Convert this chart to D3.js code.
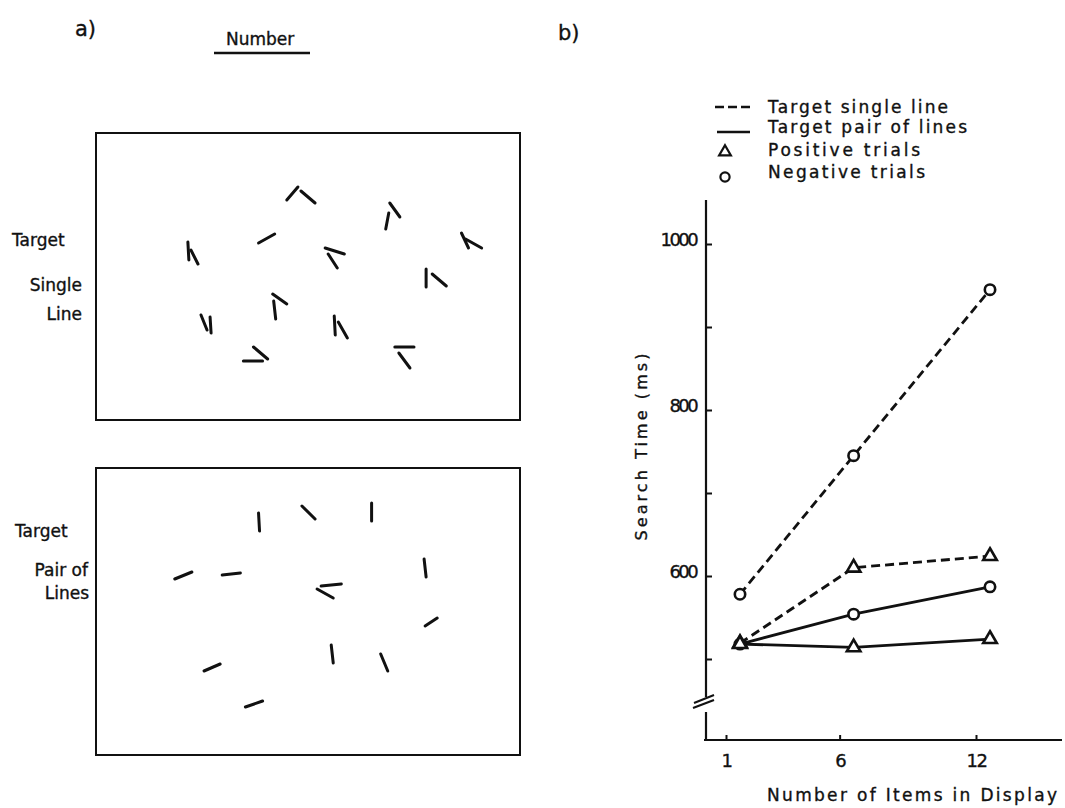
<!DOCTYPE html>
<html><head><meta charset="utf-8">
<script src="https://cdn.jsdelivr.net/npm/d3@7"></script>
<style>
body{margin:0;background:#fff}
svg{display:block;background:#fff}
text{font-family:"DejaVu Sans",sans-serif;fill:#111;stroke:#111;stroke-width:0.35px}
</style></head><body>
<svg id="fig" width="1065" height="808"></svg>
<script>
// ---- Panel (b): mean search time by display size ----
const itemCounts = [1, 6, 12];
const singleNegative = [578, 745, 945];
const singlePositive = [519, 610, 624];
const pairNegative = [518, 554, 587];
const pairPositive = [518, 514, 524];
const yTickValues = [500, 600, 700, 800, 900, 1000];
const yTickLabels = ["", "600", "", "800", "", "1000"];
const xTickLabels = ["1", "6", "12"];
const legendLabels = ["Target single line", "Target pair of lines", "Positive trials", "Negative trials"];

// ---- Panel (a): example displays; each item is a list of strokes [x1, y1, x2, y2] in display units ----
const singleLineItems = [
  [[189, 67, 200, 54], [203, 58, 217, 70]],
  [[291, 70, 301, 84], [290, 80, 287, 96]],
  [[91, 109, 92, 127], [94, 117, 101, 131]],
  [[161, 110, 177, 101]],
  [[227, 115, 246, 121], [230, 121, 239, 135]],
  [[362, 100, 369, 115], [366, 106, 382, 115]],
  [[327, 136, 327, 154], [333, 141, 347, 153]],
  [[175, 161, 189, 171], [176, 168, 178, 186]],
  [[104, 182, 110, 197], [113, 184, 114, 200]],
  [[236, 183, 237, 202], [240, 189, 249, 205]],
  [[156, 214, 170, 226], [146, 228, 165, 228]],
  [[296, 214, 315, 214], [300, 220, 311, 235]]
];
const pairItems = [
  [[161, 45, 162, 63]],
  [[204, 38, 217, 51]],
  [[273, 35, 273, 53]],
  [[78, 111, 95, 104]],
  [[125, 107, 143, 105]],
  [[325, 91, 327, 109]],
  [[223, 118, 243, 116], [219, 121, 235, 130]],
  [[326, 158, 338, 150]],
  [[233, 177, 235, 195]],
  [[282, 186, 289, 203]],
  [[107, 203, 123, 196]],
  [[148, 239, 165, 233]]
];
const displayLabels = [["Target", "Single", "Line"], ["Target", "Pair of", "Lines"]];

const svg = d3.select("#fig");

// ---------- panel (a) ----------
const dispW = 420, dispH = 287;
const panels = [
  {items: singleLineItems, top: 133, labels: displayLabels[0]},
  {items: pairItems, top: 468, labels: displayLabels[1]}
];
const panelLeft = 96, panelWidth = 424, panelHeight = 287;

svg.append("text").attr("x", 75).attr("y", 36).attr("font-size", 21).text("a)");
svg.append("text").attr("x", 226).attr("y", 45).attr("font-size", 17).text("Number");
svg.append("line").attr("x1", 214).attr("x2", 310).attr("y1", 53).attr("y2", 53)
  .attr("stroke", "#111").attr("stroke-width", 2.4);
svg.append("text").attr("x", 558).attr("y", 40).attr("font-size", 21).text("b)");

panels.forEach((p, pi) => {
  const sx = d3.scaleLinear().domain([0, dispW]).range([panelLeft, panelLeft + panelWidth]);
  const sy = d3.scaleLinear().domain([0, dispH]).range([p.top, p.top + panelHeight]);
  const g = svg.append("g");
  g.append("rect").attr("x", sx(0)).attr("y", sy(0))
    .attr("width", sx(dispW) - sx(0)).attr("height", sy(dispH) - sy(0))
    .attr("fill", "none").attr("stroke", "#111").attr("stroke-width", 2);
  g.selectAll("line.stroke")
    .data(p.items.flat())
    .join("line")
    .attr("class", "stroke")
    .attr("x1", d => sx(d[0])).attr("y1", d => sy(d[1]))
    .attr("x2", d => sx(d[2])).attr("y2", d => sy(d[3]))
    .attr("stroke", "#111").attr("stroke-width", 3).attr("stroke-linecap", "round");
  // row labels beside each display
  const lab = svg.append("g").attr("font-size", 17);
  const baseY = pi === 0 ? [246, 291, 320] : [537, 576, 599];
  lab.append("text").attr("x", pi === 0 ? 12 : 15).attr("y", baseY[0]).text(p.labels[0]);
  lab.append("text").attr("x", pi === 0 ? 82 : 88).attr("y", baseY[1]).attr("text-anchor", "end").text(p.labels[1]);
  lab.append("text").attr("x", pi === 0 ? 82 : 89).attr("y", baseY[2]).attr("text-anchor", "end").text(p.labels[2]);
});

// ---------- panel (b) ----------
const axisX = 706, axisBottom = 740;
const x = d3.scaleLinear().domain([1, 12]).range([740, 990]);
const y = d3.scaleLinear().domain([500, 1000]).range([659, 244]);
const tickShift = -14;

// y axis (ticks point into the plot)
const yAxis = d3.axisLeft(y).tickValues(yTickValues)
  .tickSizeInner(-6).tickSizeOuter(0).tickPadding(10)
  .tickFormat((d, i) => yTickLabels[i]);
const gy = svg.append("g").attr("transform", `translate(${axisX},0)`).call(yAxis);
gy.select(".domain").remove();
gy.selectAll(".tick line").attr("stroke", "#111").attr("stroke-width", 2);
gy.selectAll(".tick text").attr("font-size", 18).attr("letter-spacing", -2.6)
  .attr("fill", "#111").attr("dy", "0.1em").style("font-family", "DejaVu Sans");

// axis line with a scale break below 500
svg.append("line").attr("x1", axisX).attr("x2", axisX).attr("y1", 200).attr("y2", 697)
  .attr("stroke", "#111").attr("stroke-width", 2.2);
svg.append("line").attr("x1", axisX).attr("x2", axisX).attr("y1", 712).attr("y2", axisBottom)
  .attr("stroke", "#111").attr("stroke-width", 2.2);
[[693, 708, 714, 700], [694, 703, 714, 695]].forEach(b => {
  svg.append("line").attr("x1", b[0]).attr("y1", b[1]).attr("x2", b[2]).attr("y2", b[3])
    .attr("stroke", "#111").attr("stroke-width", 2);
});

// x axis
const xAxis = d3.axisBottom(x).tickValues(itemCounts)
  .tickSizeInner(-5).tickSizeOuter(0).tickPadding(18)
  .tickFormat((d, i) => xTickLabels[i]);
const gx = svg.append("g").attr("transform", `translate(${tickShift},${axisBottom})`).call(xAxis);
gx.select(".domain").remove();
gx.selectAll(".tick line").attr("stroke", "#111").attr("stroke-width", 2);
gx.selectAll(".tick text").attr("font-size", 18).attr("letter-spacing", -1.5)
  .attr("fill", "#111").attr("dy", "0.5em").style("font-family", "DejaVu Sans");
svg.append("line").attr("x1", 704).attr("x2", 1062).attr("y1", axisBottom).attr("y2", axisBottom)
  .attr("stroke", "#111").attr("stroke-width", 2.2);

// axis titles
svg.append("text").attr("transform", `translate(647,447) rotate(-90)`)
  .attr("text-anchor", "middle").attr("font-size", 16)
  .attr("textLength", 187).attr("lengthAdjust", "spacing").text("Search Time (ms)");
svg.append("text").attr("x", 767).attr("y", 801).attr("font-size", 17)
  .attr("textLength", 290).attr("lengthAdjust", "spacing").text("Number of Items in Display");

// data series
const series = [
  {values: singleNegative, dashed: true, marker: "circle"},
  {values: singlePositive, dashed: true, marker: "triangle"},
  {values: pairNegative, dashed: false, marker: "circle"},
  {values: pairPositive, dashed: false, marker: "triangle"}
];
const line = d3.line().x((d, i) => x(itemCounts[i])).y(d => y(d));
const tri = d3.symbol().type(d3.symbolTriangle).size(80);

series.forEach(s => {
  svg.append("path").datum(s.values).attr("d", line)
    .attr("fill", "none").attr("stroke", "#111").attr("stroke-width", 2.8)
    .attr("stroke-dasharray", s.dashed ? "9,5" : null);
});
series.forEach(s => {
  const g = svg.append("g");
  if (s.marker === "circle") {
    g.selectAll("circle").data(s.values).join("circle")
      .attr("cx", (d, i) => x(itemCounts[i])).attr("cy", d => y(d)).attr("r", 5.2)
      .attr("fill", "#fff").attr("stroke", "#111").attr("stroke-width", 2.6);
  } else {
    g.selectAll("path").data(s.values).join("path")
      .attr("d", tri).attr("transform", (d, i) => `translate(${x(itemCounts[i])},${y(d)})`)
      .attr("fill", "#fff").attr("stroke", "#111").attr("stroke-width", 2.6);
  }
});

// legend
const leg = svg.append("g");
const rowY = [107, 127, 150, 172];
const legendWidths = [180, 199, 152, 157];
legendLabels.forEach((t, i) => {
  leg.append("text").attr("x", 768).attr("y", rowY[i] + 6).attr("font-size", 17)
    .attr("textLength", legendWidths[i]).attr("lengthAdjust", "spacing").text(t);
});
leg.append("line").attr("x1", 715).attr("x2", 750).attr("y1", rowY[0]).attr("y2", rowY[0])
  .attr("stroke", "#111").attr("stroke-width", 2.4).attr("stroke-dasharray", "9,4");
leg.append("line").attr("x1", 717).attr("x2", 750).attr("y1", rowY[1] + 5).attr("y2", rowY[1] + 5)
  .attr("stroke", "#111").attr("stroke-width", 2.4);
leg.append("path").attr("d", d3.symbol().type(d3.symbolTriangle).size(60))
  .attr("transform", `translate(725,${rowY[2] + 2})`)
  .attr("fill", "#fff").attr("stroke", "#111").attr("stroke-width", 2.2);
leg.append("circle").attr("cx", 725).attr("cy", rowY[3] + 5).attr("r", 4.6)
  .attr("fill", "#fff").attr("stroke", "#111").attr("stroke-width", 2.2);
</script>
</body></html>
